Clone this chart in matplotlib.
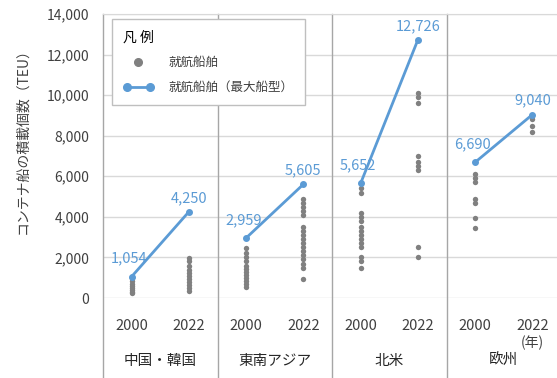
import matplotlib
matplotlib.use('Agg')
import matplotlib.pyplot as plt
from matplotlib.lines import Line2D
from matplotlib.legend_handler import HandlerLine2D

plt.rcParams['font.family'] = ['Noto Sans CJK JP', 'DejaVu Sans']

# Regions and years
regions = ["中国・韓国", "東南アジア", "北米", "欧州"]
years = ["2000", "2022"]

# Largest ship in service per region (2000, 2022)
max_ship = [
    [1054, 4250],
    [2959, 5605],
    [5652, 12726],
    [6690, 9040],
]

# Other ships in service, per region and year
ships_2000 = [
    [1000, 850, 700, 600, 500, 400, 300, 250],
    [2450, 2200, 2000, 1800, 1600, 1450, 1300, 1150, 1000, 850, 700, 550],
    [5400, 5200, 4200, 4000, 3800, 3500, 3300, 3100, 2900, 2700, 2500, 2000, 1800, 1500],
    [6100, 5900, 5700, 4900, 4700, 3950, 3450],
]
ships_2022 = [
    [1950, 1800, 1600, 1400, 1250, 1100, 950, 800, 650, 500, 350],
    [4900, 4700, 4500, 4300, 4100, 3500, 3300, 3100, 2900, 2700, 2500, 2300, 2100, 1900, 1700, 1500, 950],
    [10100, 9900, 9600, 7000, 6700, 6500, 6300, 2500, 2000],
    [8800, 8500, 8200],
]

yticks = [0, 2000, 4000, 6000, 8000, 10000, 12000, 14000]

blue = "#5b9bd5"
gray = "#808080"
text_gray = "#404040"

fig = plt.figure(figsize=(5.57, 3.78), dpi=100)
ax = fig.add_axes([103 / 557, 1 - 298 / 378, 458 / 557, 284 / 378])

for i in range(len(regions)):
    x0, x1 = i + 0.25, i + 0.75
    ax.scatter([x0] * len(ships_2000[i]), ships_2000[i], s=15, color=gray, zorder=3, linewidths=0)
    ax.scatter([x1] * len(ships_2022[i]), ships_2022[i], s=15, color=gray, zorder=3, linewidths=0)
    line, = ax.plot([x0, x1], max_ship[i], color=blue, lw=2, marker='o', ms=4, zorder=4)
    # value labels: first point up-left, second point above
    ax.annotate(f"{max_ship[i][0]:,}", (x0, max_ship[i][0]), xytext=(-2, 8),
                textcoords='offset points', ha='center', va='bottom',
                color=blue, fontsize=10.5)
    ax.annotate(f"{max_ship[i][1]:,}", (x1, max_ship[i][1]), xytext=(0, 5),
                textcoords='offset points', ha='center', va='bottom',
                color=blue, fontsize=10.5)

ax.set_xlim(0, 4)
ax.set_ylim(0, 14000)
ax.set_yticks(yticks)
ax.set_yticklabels([f"{v:,}" for v in yticks], fontsize=10, color=text_gray)
ax.tick_params(axis='y', length=0, pad=10)
ax.set_xticks([])
ax.grid(axis='y', color='#d9d9d9', lw=1)
ax.set_axisbelow(True)
for side in ['left', 'right', 'bottom']:
    ax.spines[side].set_visible(False)
ax.spines['top'].set_color('#d9d9d9')

# region separators run down through the category labels
trans = ax.get_xaxis_transform()
for g in range(5):
    ax.plot([g, g], [-0.3, 1], transform=trans, color='#a6a6a6', lw=1, clip_on=False, zorder=1)

for i, name in enumerate(regions):
    for j, yr in enumerate(years):
        ax.text(i + 0.25 + 0.5 * j, -0.1, yr, transform=trans, ha='center', va='center',
                fontsize=10.5, color=text_gray)
    ax.text(i + 0.5, -0.222, name, transform=trans, ha='center', va='center',
            fontsize=10.5, color='#262626')
ax.text(3.75, -0.158, "(年)", transform=trans, ha='center', va='center',
        fontsize=10, color=text_gray)

fig.text(22 / 557, 1 - 138 / 378, "コンテナ船の積載個数（TEU）", rotation=90,
         ha='center', va='center', fontsize=10, color=text_gray)

dot_handle = Line2D([], [], linestyle='none', marker='o', color=gray, ms=5.5)
line_handle = Line2D([], [], color=blue, lw=2, marker='o', ms=5.5)
leg = ax.legend([dot_handle, line_handle], ["就航船舶", "就航船舶（最大船型）"], title="凡 例",
                handler_map={dot_handle: HandlerLine2D(numpoints=1)},
                loc='upper left', bbox_to_anchor=(112 / 557, 1 - 19 / 378),
                bbox_transform=fig.transFigure, fancybox=False, framealpha=1,
                edgecolor='#bfbfbf', fontsize=9, title_fontsize=10, numpoints=2,
                alignment='left', borderpad=0.9, handlelength=2.4,
                handletextpad=1.2, labelspacing=0.95, borderaxespad=0)
leg.get_frame().set_linewidth(1)
for t in leg.get_texts():
    t.set_color(text_gray)

fig.savefig("out.png", dpi=100)
